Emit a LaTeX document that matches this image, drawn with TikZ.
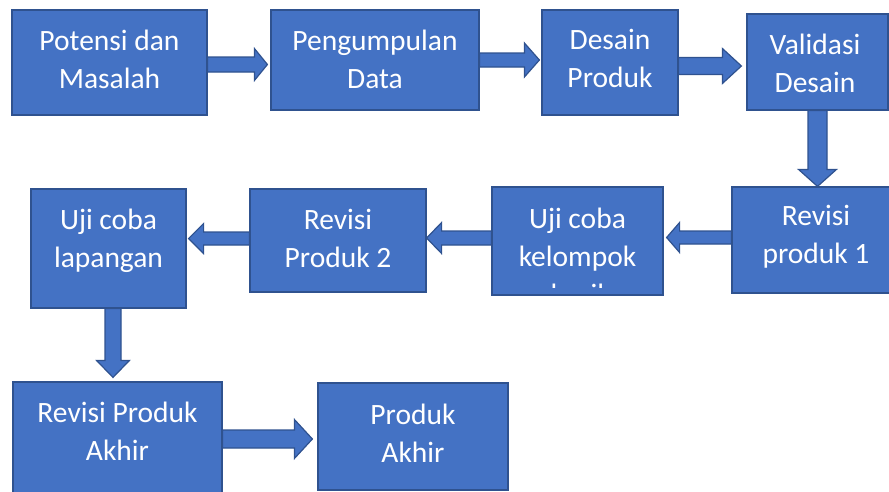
\documentclass[tikz,border=0pt]{standalone}
\usepackage{fontspec}
\setmainfont{Carlito}
\usetikzlibrary{calc}
\definecolor{boxfill}{HTML}{4472C4}
\definecolor{boxline}{HTML}{2F528F}
\tikzset{
	box/.style={draw=boxline, fill=boxfill, line width=1.2pt, inner sep=0pt},
	txt/.style={text=white, align=center, anchor=base, inner sep=0pt,
		font=\fontsize{29.5}{38}\selectfont},
	barrow/.style={draw=boxline, fill=boxfill, line width=1.2pt, line join=miter}
}
% block arrow: (tail)(tip)(shaft half width:head half width:head length)
\def\blockarrow(#1)(#2)(#3:#4:#5){\coordinate (ah) at ($(#2)!#5!(#1)$);
	\draw[barrow] ($(#1)!#3!90:(#2)$) -- ($(ah)!#3!-90:(#1)$) -- ($(ah)!#4!-90:(#1)$) -- (#2) -- ($(ah)!#4!90:(#1)$) -- ($(ah)!#3!90:(#1)$) -- ($(#1)!#3!-90:(#2)$) -- cycle;}

\begin{document}
\begin{tikzpicture}[x=1pt, y=-1pt]
			\useasboundingbox (0,0) rectangle (889,491);
			\clip (0,0) rectangle (889,491);
			
			%%%%% BOXES %%%%%
			\node[box, minimum width=195pt, minimum height=105pt] (pot) at (109.5,62.5) {};
			\node[box, minimum width=208pt, minimum height=100pt] (pen) at (375,60) {};
			\node[box, minimum width=136pt, minimum height=105pt] (des) at (610,62.5) {};
			\node[box, minimum width=141pt, minimum height=96pt] (val) at (817.5,62) {};
			
			\node[box, minimum width=168pt, minimum height=106pt] (rev1) at (816,240) {};
			\node[box, minimum width=171pt, minimum height=108pt] (ujk) at (577.5,241) {};
			\node[box, minimum width=176pt, minimum height=103pt] (rev2) at (338,240.5) {};
			\node[box, minimum width=155pt, minimum height=119pt] (ujl) at (108.5,248.5) {};
			
			\node[box, minimum width=209pt, minimum height=118pt] (rpa) at (117.5,441) {};
			\node[box, minimum width=190pt, minimum height=107pt] (pa) at (413,436.5) {};
			
			%%%%% TEXTS (anchored at last baseline) %%%%%
			\node[txt] (pot-t) at (109.5,88) {Potensi dan\\Masalah};
			\node[txt] (pen-t) at (375,88) {Pengumpulan\\Data};
			\node[txt] (des-t) at (610,87) {Desain\\Produk};
			\node[txt] (val-t) at (815,92) {Validasi\\Desain};
			\node[txt] (rev1-t) at (816,263) {Revisi\\produk 1};
			\begin{scope}
				\clip (ujk.north west) rectangle ([yshift=8pt]ujk.south east);
				\node[txt] (ujk-t) at (577.5,304) {Uji coba\\kelompok\\kecil};
			\end{scope}
			\node[txt] (rev2-t) at (338,267) {Revisi\\Produk 2};
			\node[txt] (ujl-t) at (108.5,267) {Uji coba\\lapangan};
			\node[txt] (rpa-t) at (117.5,460) {Revisi Produk\\Akhir};
			\node[txt] (pa-t) at (413,462) {Produk\\Akhir};
			
			%%%%% ARROWS %%%%%
			\coordinate (a1) at ([yshift=-2pt]pot.east);
			\coordinate (b1) at ([xshift=-3pt]pen.west |- a1);
			\blockarrow(a1)(b1)(7.5pt:16pt:13pt)
			
			\coordinate (a2) at (pen.east);
			\coordinate (b2) at ([xshift=-2pt]des.west |- a2);
			\blockarrow(a2)(b2)(7pt:17pt:15pt)
			
			\coordinate (a3) at ([yshift=-3.5pt]des.east);
			\coordinate (b3) at ([xshift=-5pt]val.west |- a3);
			\blockarrow(a3)(b3)(8.5pt:17.5pt:19pt)
			
			\coordinate (a4) at (val.south);
			\coordinate (b4) at (rev1.north -| a4);
			\blockarrow(a4)(b4)(9.5pt:19pt:17pt)
			
			\coordinate (a5) at ([yshift=2.5pt]rev1.west);
			\coordinate (b5) at ([xshift=3pt]ujk.east |- a5);
			\blockarrow(a5)(b5)(6.5pt:15pt:13pt)
			
			\coordinate (a6) at ([yshift=3pt]ujk.west);
			\coordinate (b6) at (rev2.east |- a6);
			\blockarrow(a6)(b6)(7pt:15.5pt:15pt)
			
			\coordinate (a7) at ([yshift=2pt]rev2.west);
			\coordinate (b7) at ([xshift=2pt]ujl.east |- a7);
			\blockarrow(a7)(b7)(6.5pt:15pt:15pt)
			
			\coordinate (a8) at ([xshift=4.5pt]ujl.south);
			\coordinate (b8) at ([yshift=4pt]rpa.north -| a8);
			\blockarrow(a8)(b8)(8pt:16.5pt:17pt)
			
			\coordinate (a9) at (rpa.east |- 0,439);
			\coordinate (b9) at ([xshift=-5pt]pa.west |- a9);
			\blockarrow(a9)(b9)(9pt:19.5pt:18pt)
			
		\end{tikzpicture}
\end{document}
